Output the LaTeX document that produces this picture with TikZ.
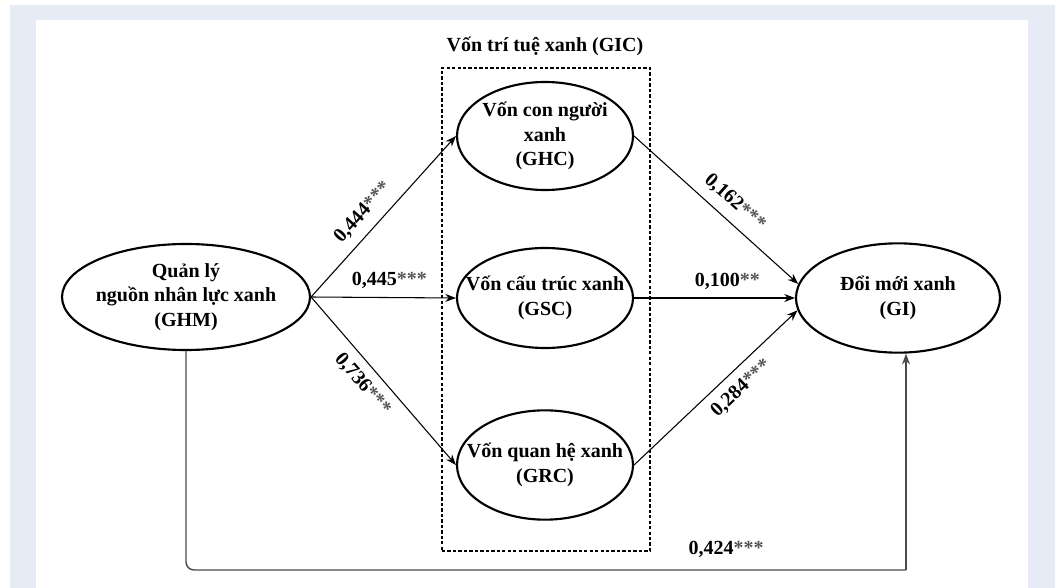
\documentclass[tikz,border=0pt]{standalone}
\usepackage{fontspec}
\setmainfont{Liberation Serif}
\usetikzlibrary{arrows.meta,shapes.geometric}
\definecolor{bgblue}{HTML}{E6EBF6}
\definecolor{stargray}{HTML}{555555}
\definecolor{linegray}{HTML}{4A4A4A}
\newcommand{\astr}[1]{\textcolor{stargray}{#1}}
\begin{document}
\begin{tikzpicture}[x=0.75pt,y=-0.75pt,
  ell/.style={draw, line width=1.6pt, ellipse, inner xsep=-30pt, inner ysep=-12pt,
    align=center, font=\bfseries\fontsize{15}{18.5}\selectfont},
  edge/.style={line width=0.8pt, -{Stealth[length=8pt,width=6pt]}},
  lbl/.style={font=\bfseries\fontsize{15}{18}\selectfont, inner sep=0pt},
  dashbox/.style={draw, line width=0.9pt, dash pattern=on 2.5pt off 1.6pt, inner sep=0pt},
  botline/.style={draw=linegray, line width=1.1pt}]
\useasboundingbox (0,0) rectangle (1058,588);
\fill[white] (0,0) rectangle (1058,588);
\fill[bgblue] (10,5) rectangle (1055,588);
\fill[white] (36,20) rectangle (1028,588);

% dashed group box and title
\node[dashbox, minimum width=156pt, minimum height=362.25pt] (GIC) at (546,309.5) {};
\node[lbl] (title) at (545,46) {Vốn trí tuệ xanh (GIC)};

% constructs
\node[ell, minimum width=186pt, minimum height=79.5pt] (GHM) at (186,297)
  {Quản lý\\nguồn nhân lực xanh\\(GHM)};
\node[ell, minimum width=132pt, minimum height=81pt] (GHC) at (545,136)
  {Vốn con người\\xanh\\(GHC)};
\node[ell, minimum width=132pt, minimum height=75pt] (GSC) at (545,298)
  {Vốn cấu trúc xanh\\(GSC)};
\node[ell, minimum width=132pt, minimum height=82pt] (GRC) at (545,465)
  {Vốn quan hệ xanh\\(GRC)};
\node[ell, minimum width=153pt, minimum height=82pt] (GI) at (898,298)
  {Đổi mới xanh\\(GI)};

% paths
\draw[edge] (GHM.east) -- node[lbl, sloped, pos=0.45, above, inner sep=7pt] {0,444\astr{***}} (GHC.west);
\draw[edge] (GHM.east) -- node[lbl, pos=0.54, above, inner sep=6pt] {0,445\astr{***}} (GSC.west);
\draw[edge] (GHM.east) -- node[lbl, sloped, pos=0.45, below, inner sep=7pt] {0,736\astr{***}} (GRC.west);

\draw[edge] (GHC.east) -- node[lbl, sloped, pos=0.54, above, inner sep=7pt] {0,162\astr{***}} (GI.172.5);
\draw[edge] (GSC.east) -- node[lbl, pos=0.58, above, inner sep=6pt] {0,100\astr{**}} (GI.west);
\draw[edge] (GRC.east) -- node[lbl, sloped, pos=0.58, below, inner sep=7pt] {0,284\astr{***}} (GI.187.5);

% direct effect
\coordinate (b1) at (186,570);
\coordinate (b2) at (906,570);
\draw[botline, rounded corners=6pt] (GHM.south) -- (b1) -- node[lbl, text=black, pos=0.75, above, inner sep=9pt] {0,424\astr{***}} (b2);
\draw[botline, line width=0.9pt, -{Stealth[length=8pt,width=6pt]}] (b2) -- (b2 |- GI.south);
\end{tikzpicture}
\end{document}
